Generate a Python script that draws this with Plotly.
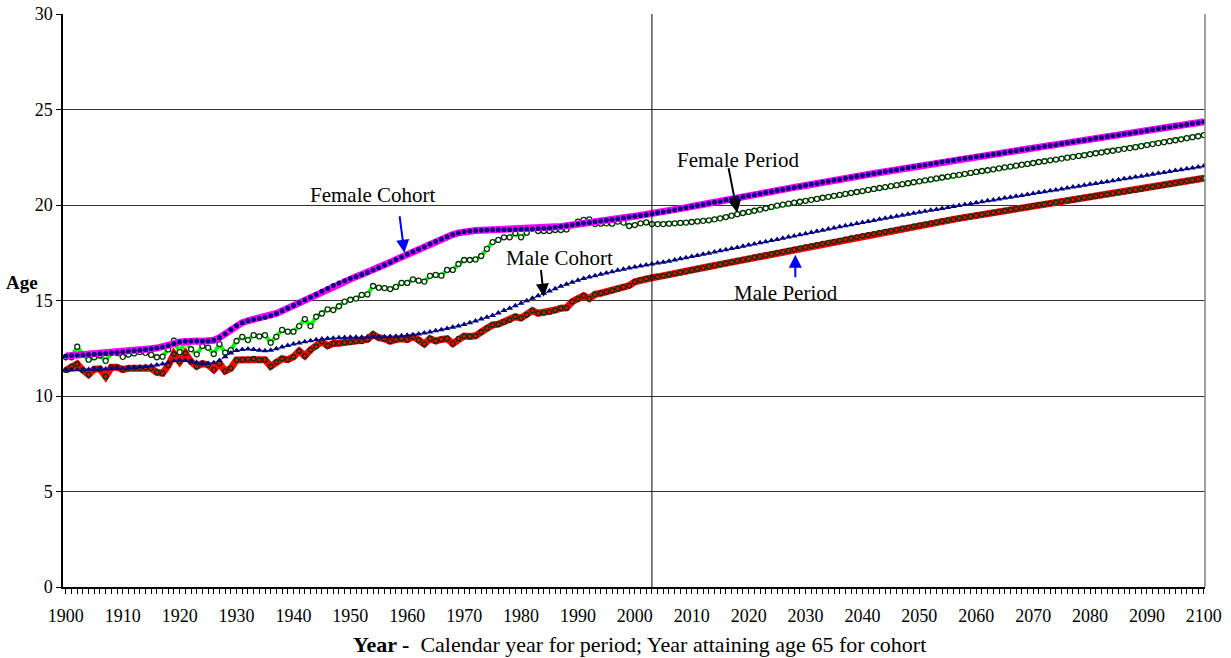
import plotly.graph_objects as go

years = list(range(1900, 2101))

female_cohort = [
    12.1, 12.12, 12.14, 12.15, 12.17, 12.19, 12.21, 12.23, 12.26, 12.28,
    12.31, 12.34, 12.37, 12.4, 12.43, 12.47, 12.51, 12.56, 12.64, 12.74,
    12.83, 12.87, 12.88, 12.88, 12.87, 12.88, 12.92, 13.05, 13.25, 13.48,
    13.68, 13.84, 13.94, 14.0, 14.06, 14.12, 14.2, 14.32, 14.46, 14.6,
    14.74, 14.88, 15.02, 15.17, 15.32, 15.48, 15.63, 15.78, 15.92, 16.04,
    16.15, 16.25, 16.36, 16.47, 16.6, 16.72, 16.86, 17.0, 17.14, 17.28,
    17.42, 17.55, 17.68, 17.82, 17.96, 18.09, 18.22, 18.34, 18.45, 18.54,
    18.6, 18.64, 18.66, 18.68, 18.69, 18.7, 18.7, 18.7, 18.71, 18.72,
    18.73, 18.74, 18.75, 18.77, 18.78, 18.8, 18.83, 18.87, 18.91, 18.96,
    19.0, 19.04, 19.08, 19.12, 19.16, 19.2, 19.24, 19.28, 19.32, 19.37,
    19.41, 19.45, 19.49, 19.54, 19.59, 19.64, 19.69, 19.74, 19.8, 19.86,
    19.92, 19.98, 20.03, 20.09, 20.15, 20.2, 20.26, 20.32, 20.37, 20.43,
    20.48, 20.54, 20.59, 20.65, 20.7, 20.76, 20.81, 20.87, 20.92, 20.97,
    21.03, 21.08, 21.13, 21.19, 21.24, 21.29, 21.34, 21.4, 21.45, 21.5,
    21.55, 21.6, 21.65, 21.7, 21.75, 21.8, 21.85, 21.9, 21.95, 22.0,
    22.05, 22.1, 22.15, 22.2, 22.25, 22.3, 22.34, 22.39, 22.43, 22.48,
    22.52, 22.57, 22.61, 22.66, 22.7, 22.75, 22.8, 22.84, 22.89, 22.93,
    22.98, 23.03, 23.07, 23.12, 23.16, 23.21, 23.26, 23.3, 23.35, 23.39,
    23.44, 23.49, 23.53, 23.58, 23.62, 23.67, 23.72, 23.76, 23.81, 23.85,
    23.9, 23.95, 23.99, 24.04, 24.08, 24.13, 24.18, 24.22, 24.27, 24.31,
    24.36,
]

female_period = [
    12.03, 12.03, 12.58, 12.18, 11.9, 12.03, 12.12, 11.84, 12.25, 12.25,
    12.05, 12.17, 12.23, 12.3, 12.26, 12.15, 12.03, 12.06, 12.44, 12.9,
    12.3, 12.85, 12.45, 12.18, 12.62, 12.53, 12.2, 12.72, 12.27, 12.4,
    12.88, 13.1, 12.93, 13.19, 13.12, 13.19, 12.79, 13.1, 13.46, 13.37,
    13.37, 13.66, 14.03, 13.66, 14.15, 14.32, 14.54, 14.5, 14.7, 14.94,
    15.04, 15.1, 15.29, 15.32, 15.76, 15.67, 15.65, 15.6, 15.71, 15.92,
    15.92, 16.11, 16.04, 15.99, 16.29, 16.34, 16.3, 16.6, 16.6, 16.91,
    17.12, 17.12, 17.15, 17.33, 17.7, 18.06, 18.17, 18.31, 18.31, 18.52,
    18.31, 18.55, 18.78, 18.64, 18.64, 18.64, 18.69, 18.69, 18.72, 18.95,
    19.13, 19.22, 19.25, 19.0, 19.02, 19.04, 19.02, 19.13, 19.08, 18.9,
    18.95, 19.04, 19.09, 19.0, 19.0, 19.0, 19.02, 19.04, 19.06, 19.08,
    19.11, 19.14, 19.17, 19.2, 19.25, 19.3, 19.37, 19.44, 19.52, 19.58,
    19.64, 19.7, 19.76, 19.83, 19.9, 19.97, 20.02, 20.07, 20.12, 20.17,
    20.22, 20.27, 20.32, 20.38, 20.43, 20.48, 20.53, 20.58, 20.63, 20.68,
    20.73, 20.79, 20.84, 20.89, 20.94, 20.99, 21.04, 21.09, 21.14, 21.19,
    21.24, 21.29, 21.34, 21.39, 21.44, 21.49, 21.54, 21.58, 21.63, 21.68,
    21.73, 21.78, 21.82, 21.87, 21.92, 21.97, 22.01, 22.06, 22.11, 22.15,
    22.2, 22.25, 22.29, 22.34, 22.38, 22.43, 22.48, 22.52, 22.57, 22.61,
    22.66, 22.71, 22.75, 22.8, 22.84, 22.89, 22.94, 22.98, 23.03, 23.08,
    23.14, 23.19, 23.24, 23.29, 23.34, 23.39, 23.44, 23.5, 23.55, 23.6,
    23.66,
]

male_cohort = [
    11.35, 11.36, 11.37, 11.38, 11.39, 11.4, 11.41, 11.42, 11.43, 11.44,
    11.45, 11.47, 11.49, 11.52, 11.55, 11.58, 11.62, 11.68, 11.76, 11.84,
    11.87, 11.86, 11.82, 11.76, 11.71, 11.7, 11.74, 11.86, 12.05, 12.25,
    12.38, 12.44, 12.46, 12.44, 12.4, 12.37, 12.4, 12.48, 12.56, 12.64,
    12.72, 12.78, 12.84, 12.89, 12.94, 12.98, 13.01, 13.03, 13.05, 13.06,
    13.07, 13.08, 13.08, 13.09, 13.09, 13.1, 13.1, 13.11, 13.13, 13.15,
    13.18, 13.21, 13.25, 13.3, 13.35, 13.41, 13.47, 13.53, 13.6, 13.67,
    13.75, 13.84, 13.93, 14.03, 14.12, 14.22, 14.34, 14.47, 14.6, 14.73,
    14.86, 14.99, 15.12, 15.25, 15.38, 15.5, 15.62, 15.74, 15.85, 15.96,
    16.06, 16.15, 16.23, 16.3, 16.37, 16.44, 16.51, 16.58, 16.64, 16.7,
    16.76, 16.81, 16.86, 16.91, 16.96, 17.0, 17.06, 17.12, 17.18, 17.24,
    17.3, 17.36, 17.42, 17.48, 17.54, 17.6, 17.66, 17.72, 17.78, 17.84,
    17.9, 17.96, 18.02, 18.08, 18.14, 18.2, 18.26, 18.32, 18.38, 18.44,
    18.5, 18.56, 18.62, 18.68, 18.74, 18.8, 18.86, 18.91, 18.97, 19.03,
    19.08, 19.14, 19.19, 19.25, 19.3, 19.36, 19.41, 19.46, 19.52, 19.57,
    19.62, 19.67, 19.72, 19.77, 19.82, 19.87, 19.92, 19.97, 20.02, 20.07,
    20.12, 20.17, 20.22, 20.26, 20.31, 20.36, 20.41, 20.46, 20.5, 20.55,
    20.6, 20.65, 20.7, 20.74, 20.79, 20.84, 20.89, 20.94, 20.98, 21.03,
    21.08, 21.13, 21.18, 21.22, 21.27, 21.32, 21.37, 21.42, 21.46, 21.51,
    21.56, 21.61, 21.66, 21.7, 21.75, 21.8, 21.85, 21.9, 21.94, 21.99,
    22.04,
]

male_period = [
    11.35, 11.55, 11.68, 11.35, 11.12, 11.4, 11.42, 11.02, 11.5, 11.5,
    11.38, 11.45, 11.47, 11.45, 11.48, 11.45, 11.24, 11.19, 11.6, 12.2,
    11.8, 12.24, 11.8, 11.55, 11.7, 11.63, 11.38, 11.7, 11.3, 11.45,
    11.88, 11.9, 11.92, 11.95, 11.88, 11.9, 11.55, 11.78, 11.95, 11.9,
    12.05, 12.35, 12.1, 12.42, 12.6, 12.85, 12.63, 12.75, 12.76, 12.8,
    12.82, 12.86, 12.86, 12.96, 13.22, 13.05, 13.0, 12.87, 12.95, 13.0,
    12.95, 13.1, 12.93, 12.72, 13.0, 12.88, 12.96, 13.0, 12.74, 13.0,
    13.14, 13.12, 13.15, 13.35, 13.55, 13.72, 13.76, 13.88, 13.98, 14.15,
    14.08, 14.25, 14.47, 14.33, 14.36, 14.4, 14.5, 14.6, 14.62, 14.94,
    15.08, 15.25, 15.1, 15.32, 15.38, 15.45, 15.53, 15.62, 15.7, 15.78,
    15.98, 16.07, 16.14, 16.19, 16.24, 16.29, 16.35, 16.41, 16.47, 16.53,
    16.59, 16.65, 16.71, 16.77, 16.83, 16.89, 16.95, 17.01, 17.07, 17.13,
    17.19, 17.25, 17.31, 17.37, 17.43, 17.49, 17.55, 17.61, 17.67, 17.73,
    17.79, 17.85, 17.91, 17.97, 18.03, 18.08, 18.14, 18.2, 18.26, 18.32,
    18.38, 18.43, 18.49, 18.55, 18.6, 18.66, 18.71, 18.77, 18.82, 18.88,
    18.93, 18.99, 19.04, 19.09, 19.15, 19.2, 19.25, 19.3, 19.35, 19.4,
    19.45, 19.5, 19.55, 19.6, 19.65, 19.7, 19.75, 19.8, 19.85, 19.9,
    19.95, 20.0, 20.04, 20.09, 20.14, 20.19, 20.23, 20.28, 20.33, 20.38,
    20.42, 20.47, 20.52, 20.56, 20.61, 20.66, 20.7, 20.75, 20.79, 20.84,
    20.9, 20.95, 21.0, 21.05, 21.1, 21.15, 21.2, 21.25, 21.3, 21.35,
    21.4,
]

x_tick_years = list(range(1900, 2101, 10))
y_ticks = [0, 5, 10, 15, 20, 25, 30]
split_year = 2003

FONT = "Liberation Serif, Times New Roman, serif"

fig = go.Figure()

# Male period: thick red line with hollow dark-green markers
fig.add_trace(go.Scatter(
    x=years, y=male_period, mode="lines",
    line=dict(color="#FF0000", width=7), hoverinfo="skip", showlegend=False))
fig.add_trace(go.Scatter(
    x=years, y=male_period, mode="markers", name="Male Period",
    marker=dict(symbol="circle-open", size=4.5, color="#003300", line=dict(width=1.3)),
    showlegend=False))

# Female period: green line under white-filled dark-green ring markers
fig.add_trace(go.Scatter(
    x=years, y=female_period, mode="lines",
    line=dict(color="#00FF00", width=4), hoverinfo="skip", showlegend=False))
fig.add_trace(go.Scatter(
    x=years, y=female_period, mode="markers", name="Female Period",
    marker=dict(symbol="circle", size=5, color="white",
                line=dict(width=1.3, color="#003300")),
    showlegend=False))

# Female cohort: magenta line with navy filled circles
fig.add_trace(go.Scatter(
    x=years, y=female_cohort, mode="lines+markers", name="Female Cohort",
    line=dict(color="#FF00FF", width=7),
    marker=dict(symbol="circle", size=5, color="#000080"),
    showlegend=False))

# Male cohort: navy triangles
fig.add_trace(go.Scatter(
    x=years, y=male_cohort, mode="lines+markers", name="Male Cohort",
    line=dict(color="#3030A0", width=1),
    marker=dict(symbol="triangle-up", size=6, color="#000080"),
    showlegend=False))

fig.add_shape(type="line", xref="x", yref="y", x0=split_year, x1=split_year,
              y0=0, y1=30.2, line=dict(color="black", width=1))

ann_font = dict(family=FONT, size=21, color="black")
annotations = [
    dict(x=1954, y=20.5, text="Female Cohort", showarrow=False, font=ann_font),
    dict(x=1959.5, y=17.5, ax=-5, ay=-38, text="", showarrow=True,
         arrowhead=2, arrowsize=1.3, arrowwidth=2, arrowcolor="#0000FF"),
    dict(x=1986.8, y=17.2, text="Male Cohort", showarrow=False, font=ann_font),
    dict(x=1984.0, y=15.2, ax=-3, ay=-28, text="", showarrow=True,
         arrowhead=2, arrowsize=1.3, arrowwidth=2, arrowcolor="black"),
    dict(x=2018.2, y=22.35, text="Female Period", showarrow=False, font=ann_font),
    dict(x=2018.0, y=19.6, ax=-9, ay=-46, text="", showarrow=True,
         arrowhead=2, arrowsize=1.3, arrowwidth=2, arrowcolor="black"),
    dict(x=2026.6, y=15.4, text="Male Period", showarrow=False, font=ann_font),
    dict(x=2028.2, y=17.4, ax=0, ay=24, text="", showarrow=True,
         arrowhead=2, arrowsize=1.3, arrowwidth=2, arrowcolor="#0000FF"),
    dict(xref="paper", yref="paper", x=0.505, y=-0.101, xanchor="center", yanchor="middle",
         text="<b>Year - </b> Calendar year for period; Year attaining age 65 for cohort",
         showarrow=False, font=dict(family=FONT, size=22, color="black")),
    dict(xref="paper", yref="paper", x=-0.036, y=0.532, xanchor="center", yanchor="middle",
         text="<b>Age</b>", showarrow=False, font=dict(family=FONT, size=19, color="black")),
]

fig.update_layout(
    width=1231, height=658,
    margin=dict(l=63, r=26, t=14, b=71, autoexpand=False),
    paper_bgcolor="white", plot_bgcolor="white",
    font=dict(family=FONT, size=18, color="black"),
    annotations=annotations,
    showlegend=False,
)

fig.update_xaxes(
    range=[1899.5, 2100.2], automargin=False,
    tickvals=x_tick_years, ticktext=[str(v) for v in x_tick_years],
    ticks="outside", ticklen=5, tickcolor="black", tickwidth=1,
    ticklabelstandoff=7,
    minor=dict(dtick=1, tick0=1900, ticks="outside", ticklen=5, tickcolor="black", showgrid=False),
    showgrid=False, zeroline=False,
    showline=True, linecolor="black", linewidth=1.5, mirror=False,
    tickfont=dict(family=FONT, size=18),
)
fig.update_yaxes(
    range=[0, 30], tickvals=y_ticks, automargin=False,
    ticks="outside", ticklen=5, tickcolor="black",
    showgrid=True, gridcolor="#333333", gridwidth=1, zeroline=False,
    showline=True, linecolor="black", linewidth=1.5,
    tickfont=dict(family=FONT, size=18),
)

# right border of the plot area
fig.add_shape(type="line", xref="paper", yref="paper", x0=1, x1=1, y0=0, y1=1,
              line=dict(color="#808080", width=1.5))

fig.write_html(
    "out.html",
    config={"displayModeBar": False},
    post_script="document.body.style.margin='0';document.body.style.overflow='hidden';",
)
